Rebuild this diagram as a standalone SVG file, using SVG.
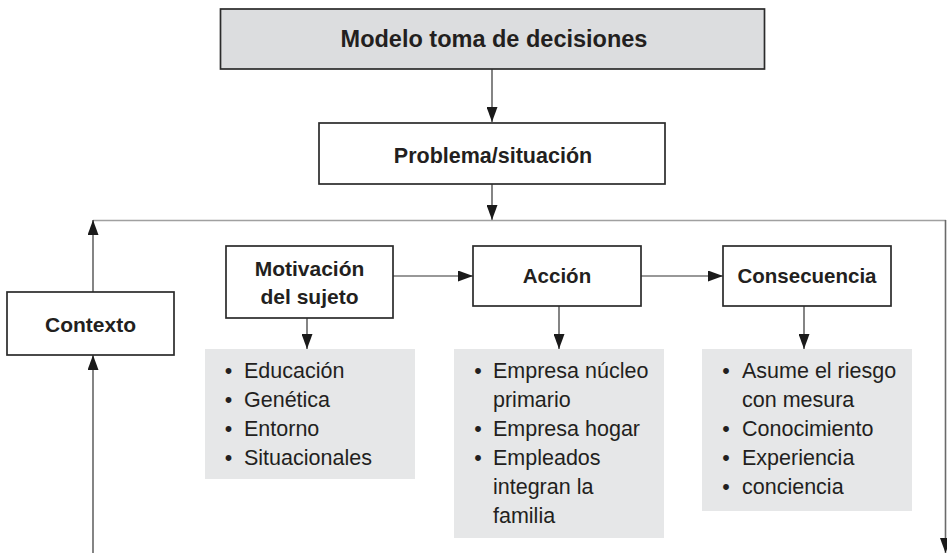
<svg xmlns="http://www.w3.org/2000/svg" width="947" height="553" viewBox="0 0 947 553">
<style>
.box{fill:#ffffff;stroke:#2b2b2b;stroke-width:1.7}
.head{fill:#dcdddf;stroke:#2b2b2b;stroke-width:1.7}
.list{fill:#e6e7e8;stroke:none}
.t{font-family:"Liberation Sans",Arial,sans-serif;font-weight:bold;fill:#231f20;text-anchor:middle}
.r{font-family:"Liberation Sans",Arial,sans-serif;font-size:21.5px;fill:#231f20}
.b{font-family:"Liberation Sans",Arial,sans-serif;font-size:21.5px;fill:#231f20;text-anchor:middle}
.c{fill:none;stroke:#333333;stroke-width:1.2}
.g{fill:none;stroke:#a0a0a0;stroke-width:1.4}
.g2{fill:none;stroke:#6a6a6a;stroke-width:1.6}
</style>
<defs>
<marker id="ah" markerUnits="userSpaceOnUse" markerWidth="15" markerHeight="11" refX="15" refY="5.5" orient="auto">
<path d="M0,0 L15,5.5 L0,11 z" fill="#1a1a1a"/>
</marker>
</defs>
<g id="connectors">
<line class="c" x1="492" y1="69" x2="492" y2="122" marker-end="url(#ah)"/>
<line class="c" x1="492" y1="184" x2="492" y2="220" marker-end="url(#ah)"/>
<line class="g" x1="93" y1="220.5" x2="946" y2="220.5"/>
<line class="g2" x1="945.5" y1="220" x2="945.5" y2="553" marker-end="url(#ah)"/>
<line class="c" x1="93" y1="292" x2="93" y2="220" marker-end="url(#ah)"/>
<line class="c" x1="93" y1="553" x2="93" y2="355" marker-end="url(#ah)"/>
<line class="c" x1="393" y1="276" x2="473" y2="276" marker-end="url(#ah)"/>
<line class="c" x1="641" y1="276" x2="723" y2="276" marker-end="url(#ah)"/>
<line class="c" x1="307" y1="318" x2="307" y2="349" marker-end="url(#ah)"/>
<line class="c" x1="559" y1="306" x2="559" y2="349" marker-end="url(#ah)"/>
<line class="c" x1="804" y1="306" x2="804" y2="349" marker-end="url(#ah)"/>
</g>
<g id="modelo">
<rect class="head" x="220.5" y="9" width="544" height="60"/>
<text class="t" x="494" y="47" font-size="23.5">Modelo toma de decisiones</text>
</g>
<g id="problema">
<rect class="box" x="319" y="123" width="346" height="61"/>
<text class="t" x="493" y="163" font-size="21.5">Problema/situación</text>
</g>
<g id="contexto">
<rect class="box" x="7" y="292" width="167" height="63"/>
<text class="t" x="90.5" y="331.5" font-size="21">Contexto</text>
</g>
<g id="motivacion">
<rect class="box" x="226" y="246" width="167" height="72"/>
<text class="t" x="309.5" y="276" font-size="21">Motivación</text>
<text class="t" x="309.5" y="304" font-size="21">del sujeto</text>
</g>
<g id="accion">
<rect class="box" x="473" y="246" width="168" height="60"/>
<text class="t" x="557" y="283" font-size="20.5">Acción</text>
</g>
<g id="consecuencia">
<rect class="box" x="723" y="246" width="168" height="60"/>
<text class="t" x="807" y="283" font-size="20.5">Consecuencia</text>
</g>
<g id="lista-motivacion">
<rect class="list" x="205" y="349" width="210" height="130"/>
<text class="b" x="228.5" y="378">•</text>
<text class="b" x="228.5" y="407">•</text>
<text class="b" x="228.5" y="436">•</text>
<text class="b" x="228.5" y="465">•</text>
<text class="r" x="244" y="378">Educación</text>
<text class="r" x="244" y="407">Genética</text>
<text class="r" x="244" y="436">Entorno</text>
<text class="r" x="244" y="465">Situacionales</text>
</g>
<g id="lista-accion">
<rect class="list" x="454" y="349" width="210" height="189"/>
<text class="b" x="478" y="378">•</text>
<text class="b" x="478" y="436">•</text>
<text class="b" x="478" y="465">•</text>
<text class="r" x="493" y="378">Empresa núcleo</text>
<text class="r" x="493" y="407">primario</text>
<text class="r" x="493" y="436">Empresa hogar</text>
<text class="r" x="493" y="465">Empleados</text>
<text class="r" x="493" y="494">integran la</text>
<text class="r" x="493" y="523">familia</text>
</g>
<g id="lista-consecuencia">
<rect class="list" x="702" y="349" width="210" height="162"/>
<text class="b" x="726" y="378">•</text>
<text class="b" x="726" y="436">•</text>
<text class="b" x="726" y="465">•</text>
<text class="b" x="726" y="494">•</text>
<text class="r" x="742" y="378">Asume el riesgo</text>
<text class="r" x="742" y="407">con mesura</text>
<text class="r" x="742" y="436">Conocimiento</text>
<text class="r" x="742" y="465">Experiencia</text>
<text class="r" x="742" y="494">conciencia</text>
</g>
</svg>
